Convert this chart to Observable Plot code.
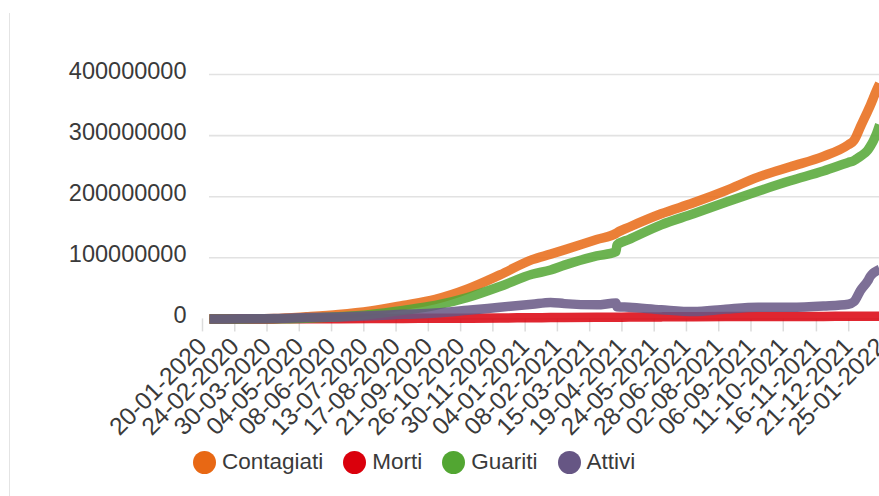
<!DOCTYPE html>
<html><head><meta charset="utf-8">
<script src="https://cdn.jsdelivr.net/npm/d3@7"></script>
<script src="https://cdn.jsdelivr.net/npm/@observablehq/plot@0.6"></script>
<style>
html,body{margin:0;padding:0;background:#fff;overflow:hidden;width:879px;height:496px;}
#wrap{position:relative;width:879px;height:496px;overflow:hidden;font-family:"Liberation Sans",Arial,sans-serif;}
#border{position:absolute;left:9px;top:13px;bottom:0;width:1px;background:#e4e4e4;}
#chart{position:absolute;left:0;top:0;width:900px;}
#chart svg{max-width:none !important;}
#legend{position:absolute;left:193px;top:450px;display:flex;align-items:center;font-size:22.5px;color:#3a3a3a;line-height:24px;}
.item{display:flex;align-items:center;margin-right:20px;}
.dot{width:23px;height:23px;border-radius:50%;margin-right:6px;}
</style></head><body>
<div id="wrap"><div id="border"></div><div id="chart"></div><div id="legend"></div></div>
<script>
// Dates of the sampled points (dd-mm-yyyy)
const dates = ["20-01-2020","24-02-2020","30-03-2020","04-05-2020","08-06-2020","13-07-2020","17-08-2020","21-09-2020","26-10-2020","30-11-2020","04-01-2021","24-01-2021","08-02-2021","15-03-2021","05-04-2021","06-04-2021","19-04-2021","24-05-2021","28-06-2021","02-08-2021","06-09-2021","11-10-2021","16-11-2021","13-12-2021","19-12-2021","21-12-2021","26-12-2021","03-01-2022","06-01-2022","09-01-2022","12-01-2022","16-01-2022"];
// Values in millions
const contagiati = [0.01,0.08,0.75,3.5,7.1,13,22,32,49,72,97,106,113,130,140,141,150,172,190,210,232,249,266,285,292,297,314,340,350,361,372,385];
const morti      = [0,0.003,0.04,0.25,0.4,0.57,0.78,0.97,1.16,1.5,1.9,2.1,2.3,2.6,2.85,2.85,3.0,3.3,3.6,3.8,3.9,4.0,4.1,4.2,4.2,4.2,4.2,4.3,4.3,4.3,4.3,4.3];
const guariti    = [0,0.03,0.16,1.1,3.4,7.4,14,22,35,53,73,80,88,103,110,121,130,154,172,191,209,226,242,256,259,261,266,276,283,291,301,318];
const attivi     = [0.01,0.05,0.55,2.2,3.3,5.0,7.5,9.5,14,19,24,27,25,23,26,20,19,15,12,16,19,19,21,24,28,32,46,62,70,75,78,81];

const series = ["Contagiati","Morti","Guariti","Attivi"];
const colors = ["#E86814","#DA000C","#52A632","#665684"];
const yTicks = [0,100000000,200000000,300000000,400000000];
const xTickLabels = ["20-01-2020","24-02-2020","30-03-2020","04-05-2020","08-06-2020","13-07-2020","17-08-2020","21-09-2020","26-10-2020","30-11-2020","04-01-2021","08-02-2021","15-03-2021","19-04-2021","24-05-2021","28-06-2021","02-08-2021","06-09-2021","11-10-2021","16-11-2021","21-12-2021","25-01-2022"];

const parse = d3.utcParse("%d-%m-%Y");
const fmt = d3.utcFormat("%d-%m-%Y");
const vals = [contagiati, morti, guariti, attivi];
const rows = [];
series.forEach((s, i) => dates.forEach((d, j) => rows.push({serie: s, date: parse(d), value: vals[i][j] * 1e6})));

const font = "'Liberation Sans', Arial, sans-serif";
const plot = Plot.plot({
  width: 900, height: 440,
  marginLeft: 209, marginRight: 7, marginTop: 74, marginBottom: 121.6,
  style: {fontFamily: font, fontSize: "23px", color: "#3a3a3a", background: "transparent", overflow: "visible", maxWidth: "none"},
  x: {type: "utc", domain: [parse("20-01-2020"), parse("31-01-2022")], label: null},
  y: {domain: [0, 400000000], label: null},
  color: {domain: series, range: colors},
  marks: [
    Plot.gridY(yTicks, {stroke: "#e2e2e2", strokeOpacity: 1, strokeWidth: 1.6}),
    Plot.axisY(yTicks, {label: null, tickSize: 0, tickPadding: 23, tickFormat: d => String(d), dy: -3, fontSize: 23.5, fill: "#3a3a3a"}),
    Plot.axisX(xTickLabels.map(parse), {label: null, tickRotate: -45, tickSize: 13, tickPadding: 10.5, stroke: "#dcdcdc", strokeWidth: 1.5, fill: "#3a3a3a", tickFormat: fmt, fontSize: 24.5, dx: -7}),
    Plot.line(rows, {x: "date", y: "value", z: "serie", stroke: "serie", strokeWidth: 9.5, strokeOpacity: 0.85, strokeLinecap: "butt", strokeLinejoin: "round", curve: "monotone-x"})
  ]
});
document.getElementById("chart").appendChild(plot);

const legend = document.getElementById("legend");
series.forEach((s, i) => {
  const item = document.createElement("div");
  item.className = "item";
  const dot = document.createElement("span");
  dot.className = "dot";
  dot.style.background = colors[i];
  const label = document.createElement("span");
  label.textContent = s;
  item.appendChild(dot); item.appendChild(label);
  legend.appendChild(item);
});
</script>
</body></html>
